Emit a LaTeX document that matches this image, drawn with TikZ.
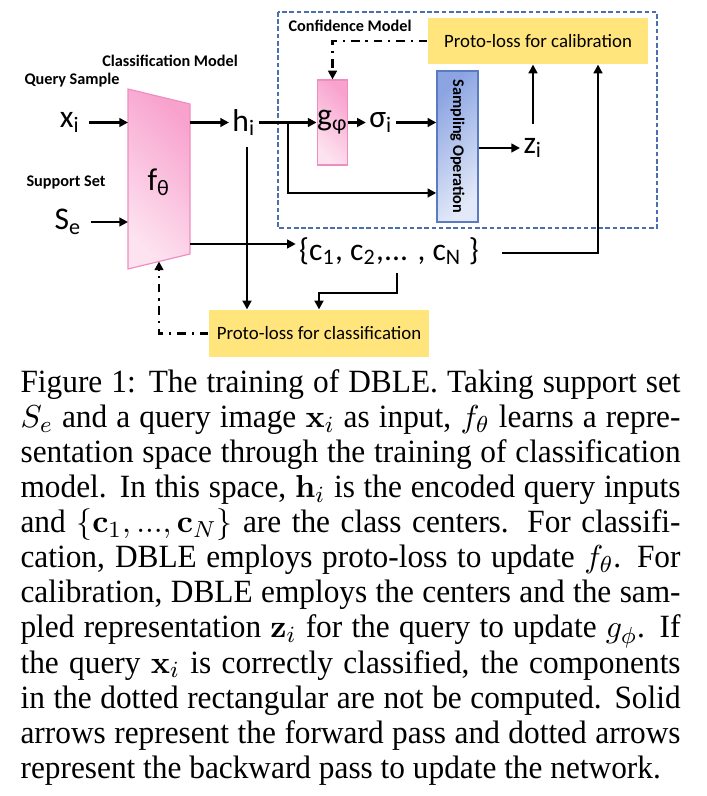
\documentclass[tikz,border=0pt]{standalone}
\usepackage[no-math]{fontspec}
\setmainfont[FakeStretch=0.965]{Liberation Serif}
\newfontfamily\calib{Carlito}
\usepackage{amsmath, amssymb}
\usetikzlibrary{arrows.meta, positioning, calc}
\newcommand{\pxu}{0.345pt}
\definecolor{mPinkD}{HTML}{F8A2CE}
\definecolor{mPinkL}{HTML}{FDE3F0}
\definecolor{mPinkLine}{HTML}{F08DC0}
\definecolor{mBlueD}{HTML}{8CA5E2}
\definecolor{mBlueL}{HTML}{E3E9F8}
\definecolor{mBlueLine}{HTML}{5A7AC2}
\definecolor{mYellow}{HTML}{FFE57C}
\definecolor{mDash}{HTML}{4A6EB0}

\begin{document}
\begin{tikzpicture}[x=\pxu, y=-\pxu,
    fw/.style={line width=0.8pt, -{Triangle[length=3pt,width=3pt]}},
    bw/.style={line width=0.8pt, dash pattern=on 3pt off 2pt on 0.8pt off 2pt, -{Triangle[length=3pt,width=3pt]}},
    var/.style={font=\calib\fontsize{10.9}{12}\selectfont, inner sep=1pt},
    tag/.style={font=\calib\bfseries\fontsize{5.6}{7}\selectfont, inner sep=0pt},
    loss/.style={fill=mYellow, font=\calib\fontsize{6.5}{8}\selectfont, minimum width=220*\pxu, minimum height=46*\pxu, inner sep=0pt},
    gbox/.style={var, draw=mPinkLine, line width=0.4pt, top color=mPinkD, bottom color=mPinkL, shading angle=-45, minimum width=29*\pxu, minimum height=85*\pxu, inner sep=0pt},
    sbox/.style={draw=mBlueLine, line width=0.5pt, top color=mBlueD, bottom color=mBlueL, shading angle=45, minimum width=41*\pxu, minimum height=151*\pxu, inner sep=0pt}]
  \useasboundingbox (0,0) rectangle (706,796);

  % classification model
  \coordinate (ftl) at (128,89);
  \coordinate (ftr) at (190,104);
  \coordinate (fbr) at (190,254);
  \coordinate (fbl) at (128,269);
  \shade[top color=mPinkD, bottom color=mPinkL, shading angle=-45, draw=mPinkLine, line width=0.4pt] (ftl) -- (ftr) -- (fbr) -- (fbl) -- cycle;
  \node[var] (f) at (159,182) {f\textsubscript{θ}};
  \node[tag] (clsm) at (170,61) {Classification Model};
  \node[tag] (qs) at (72,80) {Query Sample};
  \node[tag] (ss) at (66,182) {Support Set};
  \node[var] (xi) at (70,122.5) {x\textsubscript{i}};
  \node[var] (se) at (68,222) {S\textsubscript{e}};
  \node[var] (hi) at (244,122.5) {h\textsubscript{i}};

  % confidence model
  \draw[mDash, line width=0.5pt, dash pattern=on 1.6pt off 0.9pt] (278,12) rectangle (657,228);
  \node[tag, anchor=west] (cm) at (288,26) {Confidence Model};
  \node[loss] (lcal) at (538,41) {Proto-loss for calibration};
  \node[gbox] (g) at (332.5,122.5) {g\textsubscript{φ}};
  \node[var] (sig) at (381,122.5) {σ\textsubscript{i}};
  \node[sbox] (samp) at (457.5,146.5) {};
  \node[tag, rotate=-90] (sop) at (samp) {Sampling Operation};
  \node[var] (zi) at (533,148) {z\textsubscript{i}};

  % centers and classification loss
  \node[var] (cset) at (389,251) {\{c\textsubscript{1}, c\textsubscript{2},... , c\textsubscript{N} \}};
  \node[loss, minimum height=47*\pxu] (lcls) at (319,333.5) {Proto-loss for classification};

  % forward pass
  \draw[fw] ([xshift=2pt]xi.east) -- (xi.east -| ftl);
  \draw[fw] ([xshift=2pt]se.east) -- (se.east -| ftl);
  \draw[fw] (xi -| ftr) -- (hi.west);
  \draw[fw] (hi.east) -- (g.west);
  \coordinate (br) at ($(hi.east)!0.5!(g.west)$);
  \draw[fw] (br) |- ([yshift=-46.5*\pxu]samp.west);
  \draw[fw] (g.east) -- (sig.west);
  \draw[fw] (sig.east) -- (sig.east -| samp.west);
  \draw[fw] (samp.east |- zi) -- (zi.west);
  \draw[fw] ([yshift=3.5pt]zi.north) -- (zi.north |- lcal.south);
  \coordinate (hdn) at ($(hi.south)+(3,8)$);
  \draw[fw] (hdn) -- (hdn |- lcls.north);
  \coordinate (cin) at ($(cset.west)+(0,-7)$);
  \draw[fw] (cin -| ftr) -- (cin);
  \draw[fw] ($(cset.east)+(20,2)$) -| ($(lcal.south)+(60,0)$);
  \draw[fw] ($(cset.south)+(8,5)$) -- ++(0,20) -| (lcls.north);

  % backward pass
  \draw[bw] (lcls.west) -| ($(fbl)!0.5!(fbr)$);
  \draw[bw] (lcal.west) -| (g.north);

  % caption
  \node[anchor=north west, text width=227.7pt, align=justify, inner sep=0pt, font=\fontsize{11.2}{12.1}\selectfont] (cap) at (20,369) {\hyphenpenalty=10000 \exhyphenpenalty=10000
    Figure 1: The training of DBLE. Taking support set\linebreak
    $S_e$ and a query image $\mathbf{x}_i$ as input, $f_\theta$ learns a repre-\linebreak
    sentation space through the training of classification\linebreak
    model. In this space, $\mathbf{h}_i$ is the encoded query inputs\linebreak
    and $\{\mathbf{c}_1, ..., \mathbf{c}_N\}$ are the class centers. For classifi-\linebreak
    cation, DBLE employs proto-loss to update $f_\theta$. For\linebreak
    calibration, DBLE employs the centers and the sam-\linebreak
    pled representation $\mathbf{z}_i$ for the query to update $g_\phi$. If\linebreak
    the query $\mathbf{x}_i$ is correctly classified, the components\linebreak
    in the dotted rectangular are not be computed. Solid\linebreak
    arrows represent the forward pass and dotted arrows\linebreak
    represent the backward pass to update the network.};
\end{tikzpicture}
\end{document}
